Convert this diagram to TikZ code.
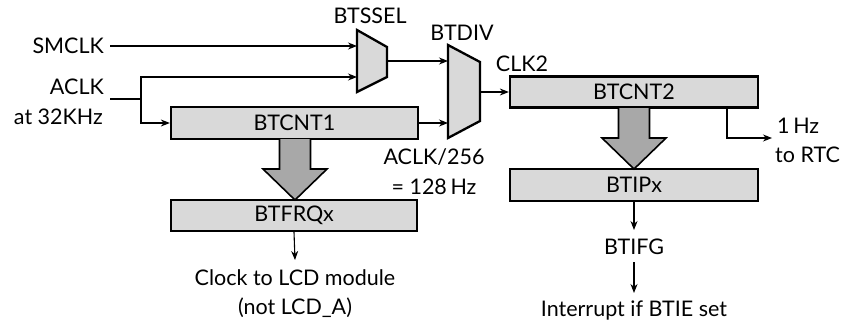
\documentclass[tikz,border=0pt]{standalone}
\usepackage{fontspec}
\setmainfont{Lato}
\usetikzlibrary{arrows.meta}
\definecolor{boxfill}{HTML}{D9D9D9}
\definecolor{arrfill}{HTML}{A8A8A8}
\tikzset{
  blk/.style={draw, line width=2.3pt, fill=boxfill, inner sep=0pt, font=\lbl},
  lab/.style={inner sep=0pt, font=\lbl},
  wire/.style={line width=1.1pt, -{Stealth[length=9pt,width=7pt]}},
  plain/.style={line width=1.1pt},
  mux/.style={draw, line width=2.3pt, fill=boxfill, line join=miter},
  fat/.style={draw, line width=1.6pt, fill=arrfill, line join=miter}
}
\newcommand{\lbl}{\fontsize{21.5}{24}\selectfont}
\begin{document}
\begin{tikzpicture}[x=1pt,y=-1pt]
\useasboundingbox (0,0) rectangle (853,324);
% boxes
\node[blk, minimum width=247pt, minimum height=32pt] (cnt1) at (294.5,123) {BTCNT1};
\node[blk, minimum width=246pt, minimum height=31pt] (frq) at (294,215.5) {BTFRQx};
\node[blk, minimum width=248pt, minimum height=31pt] (cnt2) at (634,92) {BTCNT2};
\node[blk, minimum width=248pt, minimum height=32pt] (ipx) at (634,185) {BTIPx};
% muxes
\draw[mux] (357,30) -- (387,47) -- (387,77) -- (357,92) -- cycle;
\draw[mux] (448,45) -- (480,62) -- (480,121) -- (448,138) -- cycle;
\coordinate (selA) at (357,46);
\coordinate (selB) at (357,77);
\coordinate (selO) at (387,61);
\coordinate (divA) at (448,61);
\coordinate (divB) at (448,123);
\coordinate (divO) at (480,92);
% labels
\node[lab, anchor=east] (smclk) at (104,46) {SMCLK};
\node[lab, anchor=east] (aclk) at (104,87) {ACLK};
\node[lab, anchor=east] (at32) at (103,117) {at 32KHz};
\node[lab] (tssel) at (370,16) {BTSSEL};
\node[lab] (tdiv) at (462,33) {BTDIV};
\node[lab] (tclk2) at (522,64) {CLK2};
\node[lab] (tdivr) at (434,157) {ACLK/256};
\node[lab] (thz) at (434,187) {= 128\,Hz};
\node[lab, anchor=west] (t1hz) at (777,126) {1\,Hz};
\node[lab, anchor=west] (trtc) at (775,155) {to RTC};
\node[lab] (tlcd) at (295,278) {Clock to LCD module};
\node[lab] (tnot) at (295,308) {(not LCD\_A)};
\node[lab] (tifg) at (634,247) {BTIFG};
\node[lab] (tint) at (634,310) {Interrupt if BTIE set};
% wires
\coordinate (smS) at (110,46);
\coordinate (acS) at (110,99);
\coordinate (acJ) at (141,99);
\coordinate (acT) at (141,77);
\coordinate (acB) at (141,123);
\coordinate (lcdE) at (295,260);
\coordinate (ifgE) at (634,230);
\coordinate (ifgS) at (634,262);
\coordinate (intE) at (634,293);
\draw[wire] (smS) -- (selA);
\draw[plain] (acS) -- (acJ);
\draw[wire] (acJ) -- (acT) -- (selB);
\draw[wire] (acJ) -- (acB) -- (cnt1.west);
\draw[wire] (selO) -- (divA);
\draw[wire] (cnt1.east |- divB) -- (divB);
\draw[wire] (divO) -- (cnt2.west);
\coordinate (rtcA) at (727,108);
\coordinate (rtcC) at (727,138);
\coordinate (rtcE) at (772,138);
\draw[wire] (rtcA) -- (rtcC) -- (rtcE);
\draw[wire] (frq.south) -- (lcdE);
\draw[wire] (ipx.south) -- (ifgE);
\draw[wire] (ifgS) -- (intE);
% fat arrows
\draw[fat] (279.5,139) -- (279.5,169) -- (263,169) -- (295,200) -- (327,169) -- (310.5,169) -- (310.5,139);
\draw[fat] (618.5,108) -- (618.5,138) -- (602,138) -- (634,169) -- (666,138) -- (649.5,138) -- (649.5,108);
\end{tikzpicture}
\end{document}
